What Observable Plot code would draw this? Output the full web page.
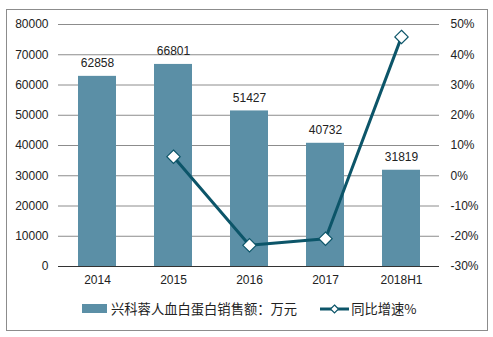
<!DOCTYPE html>
<html><head><meta charset="utf-8">
<script src="https://cdn.jsdelivr.net/npm/d3@7"></script>
<script src="https://cdn.jsdelivr.net/npm/@observablehq/plot@0.6"></script>
<style>
body{margin:0;background:#fff;font-family:"Liberation Sans",Arial,sans-serif;}
#wrap{position:relative;width:493px;height:337px;overflow:hidden;}
#frame{position:absolute;left:6px;top:9px;width:480px;height:320px;border:1px solid #8c8c8c;}
#chart{position:absolute;left:0;top:0;}
#legend{position:absolute;left:82px;top:299px;font-family:"Noto Sans CJK SC",sans-serif;font-size:13.3px;color:#222;display:flex;align-items:center;white-space:nowrap;}
.sw{display:inline-block;width:25px;height:9px;background:#5b8fa6;margin-right:4px;}
.item{display:flex;align-items:center;}
</style></head>
<body><div id="wrap"><div id="frame"></div><div id="chart"></div>
<div id="legend">
<span class="item"><span class="sw"></span>兴科蓉人血白蛋白销售额：万元</span>
<span class="item" style="margin-left:23px"><svg width="29" height="12" style="margin-right:2px"><line x1="0" y1="6" x2="29" y2="6" stroke="#0c5569" stroke-width="3"/><path d="M14.5,2 L18.5,6 L14.5,10 L10.5,6 Z" fill="#fff" stroke="#0c5569" stroke-width="1.2"/></svg>同比增速%</span>
</div></div>
<script>
const years = ["2014","2015","2016","2017","2018H1"];
const sales = [62858, 66801, 51427, 40732, 31819];
const growthYears = ["2015","2016","2017","2018H1"];
const growth = [6.3, -23.0, -20.8, 45.9];
const leftTicks = [0,10000,20000,30000,40000,50000,60000,70000,80000];
const rightTicks = [-30,-20,-10,0,10,20,30,40,50];

// map the right (percent) axis onto the left scale: -30% -> 0, 50% -> 80000
const pct = p => (p + 30) * 1000;

const bars = years.map((y,i)=>({year:y, value:sales[i]}));
const line = growthYears.map((y,i)=>({year:y, g:growth[i]}));

const chart = Plot.plot({
  width: 493, height: 290,
  marginLeft: 58, marginRight: 54, marginTop: 24, marginBottom: 24,
  style: {fontFamily: '"Liberation Sans", Arial, sans-serif', fontSize: "12px", color:"#222", background:"transparent"},
  x: {domain: years, paddingInner: 0.5, paddingOuter: 0.25, label: null},
  y: {domain: [0, 80000], label: null},
  marks: [
    Plot.ruleY(leftTicks.filter(d=>d>0), {stroke:"#8c8c8c", strokeWidth:1}),
    Plot.barY(bars, {x:"year", y:"value", fill:"#5b8fa6"}),
    Plot.ruleY([0], {stroke:"#333", strokeWidth:1.2}),
    Plot.text(bars, {x:"year", y:"value", text:d=>String(d.value), dy:-13, fontSize:12, fill:"#222"}),
    Plot.line(line, {x:"year", y:d=>pct(d.g), stroke:"#0c5569", strokeWidth:3}),
    Plot.dot(line, {x:"year", y:d=>pct(d.g), symbol:"diamond2", r:6, fill:"#fff", stroke:"#0c5569", strokeWidth:1.2}),
    Plot.axisY(leftTicks, {anchor:"left", tickSize:0, tickPadding:10, fontSize:12, label:null, tickFormat:d=>String(d)}),
    Plot.axisY(rightTicks.map(pct), {anchor:"right", tickSize:0, tickPadding:11, fontSize:12, label:null, tickFormat:v=>`${Math.round(v/1000-30)}%`}),
    Plot.axisX({tickSize:0, tickPadding:9, fontSize:12, label:null})
  ]
});
document.getElementById("chart").appendChild(chart);
</script></body></html>
